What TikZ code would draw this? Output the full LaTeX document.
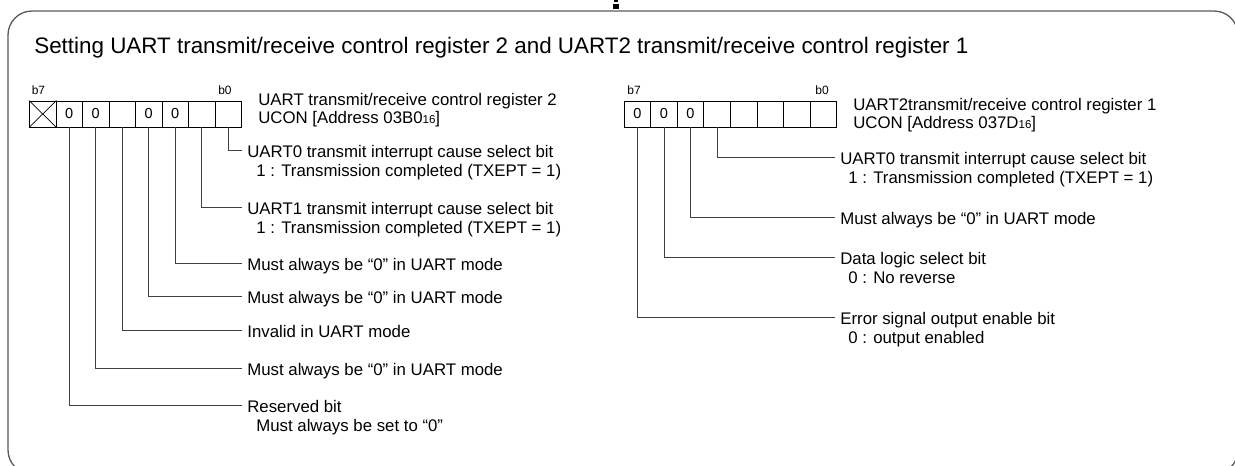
\documentclass[tikz,border=0pt]{standalone}
\usepackage{fontspec}
\setmainfont{Liberation Sans}
\usetikzlibrary{positioning}

\newcommand{\sixteen}{{\fontsize{11.5}{12}\selectfont 16}}

\begin{document}
\begin{tikzpicture}[x=1pt, y=-1pt, line width=0.7pt,
    font=\fontsize{16.8}{19}\selectfont,
    cell/.style={draw, line width=0.9pt, minimum width=26.5pt, minimum height=26pt, inner sep=0pt,
        font=\fontsize{14.5}{16}\selectfont},
    bitno/.style={font=\fontsize{12}{13}\selectfont, inner sep=0pt},
    lbl/.style={anchor=west, inner xsep=5pt, inner ysep=0pt, text height=15pt, text depth=0pt},
    leader/.style={black!75, line width=0.8pt}]
    \useasboundingbox (0,0) rectangle (1235,466);

    % --- Outer frame (runs past the page edges) ---
    \begin{scope}
        \clip (0,0) rectangle (1235,466);
        \draw[black!65, line width=1.3pt, rounded corners=24pt] (8,11) rectangle (1238,474);
    \end{scope}
    \fill (613,4) rectangle (619,9);
    \fill (614,0) rectangle (618,1.5);

    % --- Title ---
    \node[anchor=west, inner sep=0pt, font=\fontsize{22.4}{24}\selectfont] (title) at (34,48)
        {Setting UART transmit/receive control register 2 and UART2 transmit/receive control register 1};

    % --- Left register ---
    \foreach \v [count=\i] in {{},0,0,{},0,0,{},{}}
        \node[cell] (L\i) at ({29.5+26.5*(\i-0.5)},114) {\v};
    \draw (L1.north west) -- (L1.south east) (L1.south west) -- (L1.north east);
    \node[bitno] (lb7) at (38.5,90) {b7};
    \node[bitno] (lb0) at (225,90) {b0};
    \node[anchor=west, inner sep=0pt] (lname) at (258,101) {UART transmit/receive control register 2};
    \node[anchor=west, inner sep=0pt] (laddr) at (258,119) {UCON [Address 03B0\sixteen]};

    % leader texts
    \node[lbl] (l8) at (242,150) {UART0 transmit interrupt cause select bit};
    \node[lbl] (l8b) at (251,169) {1 : Transmission completed (TXEPT = 1)};
    \node[lbl] (l7) at (242,207) {UART1 transmit interrupt cause select bit};
    \node[lbl] (l7b) at (251,226) {1 : Transmission completed (TXEPT = 1)};
    \node[lbl] (l6) at (242,263) {Must always be “0” in UART mode};
    \node[lbl] (l5) at (242,296) {Must always be “0” in UART mode};
    \node[lbl] (l4) at (242,330) {Invalid in UART mode};
    \node[lbl] (l3) at (242,368) {Must always be “0” in UART mode};
    \node[lbl] (l2) at (242,405) {Reserved bit};
    \node[lbl] (l2b) at (251,424) {Must always be set to “0”};

    \foreach \n in {2,...,8}
        \draw[leader] (L\n.south) |- (l\n.west);

    % --- Right register ---
    \foreach \v [count=\i] in {0,0,0,{},{},{},{},{}}
        \node[cell] (R\i) at ({624+26.6*(\i-0.5)},114) {\v};
    \node[bitno] (rb7) at (634,90) {b7};
    \node[bitno] (rb0) at (822,90) {b0};
    \node[anchor=west, inner sep=0pt] (rname) at (853,106) {UART2transmit/receive control register 1};
    \node[anchor=west, inner sep=0pt] (raddr) at (853,124) {UCON [Address 037D\sixteen]};

    % leader texts
    \node[lbl] (r4) at (835,157) {UART0 transmit interrupt cause select bit};
    \node[lbl] (r4b) at (843,176) {1 : Transmission completed (TXEPT = 1)};
    \node[lbl] (r3) at (835,217) {Must always be “0” in UART mode};
    \node[lbl] (r2) at (835,257) {Data logic select bit};
    \node[lbl] (r2b) at (843,276) {0 : No reverse};
    \node[lbl] (r1) at (835,317) {Error signal output enable bit};
    \node[lbl] (r1b) at (843,336) {0 : output enabled};

    \foreach \n in {1,...,4}
        \draw[leader] (R\n.south) |- (r\n.west);

\end{tikzpicture}
\end{document}
